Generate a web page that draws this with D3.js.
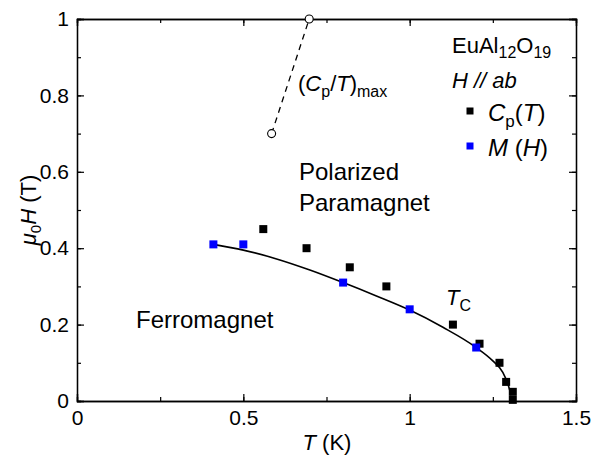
<!DOCTYPE html>
<html><head><meta charset="utf-8">
<script src="https://cdn.jsdelivr.net/npm/d3@7"></script>
<style>
body{margin:0;background:#fff;}
svg text{font-family:"Liberation Sans",Arial,sans-serif;fill:#000;}
</style></head>
<body><svg id="c" width="601" height="458"></svg>
<script>
// ---- data ----
const cpT = [0.56, 0.69, 0.82, 0.93, 1.13, 1.21, 1.27, 1.29, 1.31, 1.31];
const cpH = [0.45, 0.40, 0.35, 0.30, 0.20, 0.15, 0.10, 0.05, 0.024, 0.003];
const mT = [0.41, 0.50, 0.80, 1.00, 1.20];
const mH = [0.41, 0.41, 0.31, 0.24, 0.14];
const tcT = [0.41, 0.50, 0.60, 0.70, 0.80, 0.90, 1.00, 1.10, 1.20, 1.25, 1.28, 1.295, 1.305];
const tcH = [0.41, 0.395, 0.372, 0.343, 0.31, 0.275, 0.238, 0.193, 0.14, 0.105, 0.075, 0.045, 0.015];
const maxT = [0.585, 0.698];
const maxH = [0.70, 1.00];
const xTicks = [0, 0.5, 1, 1.5];
const xTickLabels = ["0", "0.5", "1", "1.5"];
const yTicks = [0, 0.2, 0.4, 0.6, 0.8, 1];
const yTickLabels = ["0", "0.2", "0.4", "0.6", "0.8", "1"];

const svg = d3.select("#c");
const L = 77, R = 576, T0 = 19, B = 401;
const x = d3.scaleLinear().domain([0, 1.5]).range([L, R]);
const y = d3.scaleLinear().domain([0, 1]).range([B, T0]);
const FS = 21;

function axisG(axis, tx, ty) { return svg.append("g").attr("transform", `translate(${tx},${ty})`).call(axis); }
const xMinor = d3.range(0, 1.5001, 0.25), yMinor = d3.range(0, 1.0001, 0.1);
const style = g => { g.select(".domain").attr("stroke", "#000").attr("stroke-width", 1.3);
  g.selectAll(".tick line").attr("stroke", "#000").attr("stroke-width", 1.2); };
// bottom
let g = axisG(d3.axisBottom(x).tickValues(xMinor).tickSize(-4).tickFormat(""), 0, B); style(g);
g = axisG(d3.axisBottom(x).tickValues(xTicks).tickSize(-7).tickPadding(9).tickFormat((d,i)=>xTickLabels[i]), 0, B); style(g);
g.selectAll("text").attr("font-size", FS).attr("fill", "#000");
// top
g = axisG(d3.axisTop(x).tickValues(xMinor).tickSize(-4).tickFormat(""), 0, T0); style(g);
g = axisG(d3.axisTop(x).tickValues(xTicks).tickSize(-7).tickFormat(""), 0, T0); style(g);
// left
g = axisG(d3.axisLeft(y).tickValues(yMinor).tickSize(-4).tickFormat(""), L, 0); style(g);
g = axisG(d3.axisLeft(y).tickValues(yTicks).tickSize(-7).tickPadding(8).tickFormat((d,i)=>yTickLabels[i]), L, 0); style(g);
g.selectAll("text").attr("font-size", FS).attr("fill", "#000");
// right
g = axisG(d3.axisRight(y).tickValues(yMinor).tickSize(-4).tickFormat(""), R, 0); style(g);
g = axisG(d3.axisRight(y).tickValues(yTicks).tickSize(-7).tickFormat(""), R, 0); style(g);

// Tc curve
const line = d3.line().x(d => x(d[0])).y(d => y(d[1])).curve(d3.curveMonotoneX);
svg.append("path").datum(tcT.map((t,i)=>[t, tcH[i]])).attr("d", line)
  .attr("fill", "none").attr("stroke", "#000").attr("stroke-width", 1.6);

// dashed max line
const lin = d3.line().x(d => x(d[0])).y(d => y(d[1]));
svg.append("path").datum(maxT.map((t,i)=>[t, maxH[i]])).attr("d", lin)
  .attr("fill","none").attr("stroke","#000").attr("stroke-width",1.3).attr("stroke-dasharray","6,5");
svg.selectAll("circle.mx").data(maxT.map((t,i)=>[t, maxH[i]])).enter().append("circle")
  .attr("cx", d=>x(d[0])).attr("cy", d=>y(d[1])).attr("r", 4)
  .attr("fill","#fff").attr("stroke","#000").attr("stroke-width",1.1);

// squares
const S = 8;
svg.selectAll("rect.cp").data(cpT.map((t,i)=>[t, cpH[i]])).enter().append("rect")
  .attr("x", d=>x(d[0])-S/2).attr("y", d=>y(d[1])-S/2).attr("width", S).attr("height", S).attr("fill", "#000");
svg.selectAll("rect.m").data(mT.map((t,i)=>[t, mH[i]])).enter().append("rect")
  .attr("x", d=>x(d[0])-S/2).attr("y", d=>y(d[1])-S/2).attr("width", S).attr("height", S).attr("fill", "#0000ff");

// axis titles
const AF = 22;
let t = svg.append("text").attr("x", 327).attr("y", 450).attr("text-anchor","middle").attr("font-size", AF);
t.append("tspan").attr("font-style","italic").text("T");
t.append("tspan").text(" (K)");
t = svg.append("text").attr("transform","translate(36,210) rotate(-90)").attr("text-anchor","middle").attr("font-size", AF);
t.append("tspan").attr("font-style","italic").text("μ");
t.append("tspan").attr("font-size", 15).attr("dy", 5).text("0");
t.append("tspan").attr("font-style","italic").attr("dy", -5).text("H");
t.append("tspan").text(" (T)");

// region labels
const TF = 24;
svg.append("text").attr("x", 136).attr("y", 328).attr("font-size", TF).text("Ferromagnet");
svg.append("text").attr("x", 299).attr("y", 180).attr("font-size", TF).text("Polarized");
svg.append("text").attr("x", 299).attr("y", 211).attr("font-size", TF).text("Paramagnet");
t = svg.append("text").attr("x", 446).attr("y", 305).attr("font-size", 22);
t.append("tspan").attr("font-style","italic").text("T");
t.append("tspan").attr("font-size", 16).attr("dy", 6).text("C");
t = svg.append("text").attr("x", 298).attr("y", 91).attr("font-size", 22);
t.append("tspan").text("(");
t.append("tspan").attr("font-style","italic").text("C");
t.append("tspan").attr("font-size", 16).attr("dy", 6).text("p");
t.append("tspan").attr("dy", -6).text("/");
t.append("tspan").attr("font-style","italic").text("T");
t.append("tspan").text(")");
t.append("tspan").attr("font-size", 16).attr("dy", 6).text("max");

// legend
t = svg.append("text").attr("x", 452).attr("y", 53).attr("font-size", 22);
t.append("tspan").text("EuAl");
t.append("tspan").attr("font-size", 16).attr("dy", 5).text("12");
t.append("tspan").attr("dy", -5).text("O");
t.append("tspan").attr("font-size", 16).attr("dy", 5).text("19");
svg.append("text").attr("x", 452).attr("y", 88).attr("font-size", 22).attr("font-style","italic").text("H // ab");
svg.append("rect").attr("x", 470-3.5).attr("y", 111-3.5).attr("width", 7).attr("height", 7).attr("fill", "#000");
svg.append("rect").attr("x", 470-3.5).attr("y", 146-3.5).attr("width", 7).attr("height", 7).attr("fill", "#0000ff");
const LF = 24;
t = svg.append("text").attr("x", 488).attr("y", 121).attr("font-size", LF);
t.append("tspan").attr("font-style","italic").text("C");
t.append("tspan").attr("font-size", 17).attr("dy", 6).text("p");
t.append("tspan").attr("dy", -6).text("(");
t.append("tspan").attr("font-style","italic").text("T");
t.append("tspan").text(")");
t = svg.append("text").attr("x", 488).attr("y", 156).attr("font-size", LF);
t.append("tspan").attr("font-style","italic").text("M");
t.append("tspan").text(" (");
t.append("tspan").attr("font-style","italic").text("H");
t.append("tspan").text(")");
</script></body></html>
